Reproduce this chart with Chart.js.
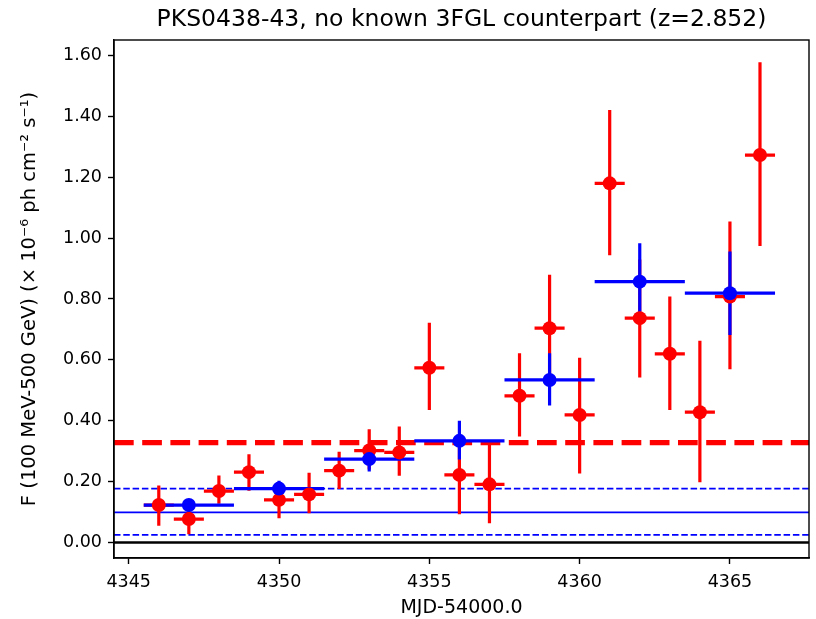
<!DOCTYPE html>
<html><head><meta charset="utf-8">
<script src="https://cdn.jsdelivr.net/npm/chart.js@4"></script>
<style>html,body{margin:0;padding:0;background:#fff}#wrap{width:816px;height:619px}</style>
</head><body><div id="wrap"><canvas id="c" width="816" height="619"></canvas></div>
<script>
// ---- data ----
const dailyDays = [4346,4347,4348,4349,4350,4351,4352,4353,4354,4355,4356,4357,4358,4359,4360,4361,4362,4363,4364,4365,4366];
const dailyFlux = [0.123,0.077,0.169,0.231,0.140,0.158,0.236,0.302,0.296,0.574,0.222,0.191,0.482,0.704,0.419,1.180,0.737,0.620,0.428,0.808,1.273];
const dailyLow  = [0.055,0.027,0.127,0.170,0.080,0.096,0.176,0.240,0.219,0.435,0.093,0.063,0.348,0.530,0.227,0.944,0.542,0.435,0.198,0.569,0.974];
const dailyHigh = [0.187,0.130,0.220,0.290,0.195,0.229,0.298,0.372,0.381,0.722,0.330,0.320,0.622,0.880,0.607,1.421,0.930,0.808,0.663,1.055,1.578];
const dailyHalfWidth = 0.5;

const binDays = [4347,4350,4353,4356,4359,4362,4365];
const binFlux = [0.123,0.177,0.274,0.334,0.534,0.857,0.819];
const binLow  = [0.103,0.152,0.233,0.273,0.450,0.758,0.682];
const binHigh = [0.143,0.203,0.300,0.400,0.622,0.983,0.956];
const binHalfWidth = 1.5;

const meanDailyFlux = 0.328;
const meanBinFlux = 0.099;
const meanBinFluxLow = 0.025;
const meanBinFluxHigh = 0.177;

const xTicks = [4345,4350,4355,4360,4365];
const yTicks = [0.0,0.2,0.4,0.6,0.8,1.0,1.2,1.4,1.6];
const xRange = [4344.51, 4367.63];
const yRange = [-0.051, 1.651];

const titleText = 'PKS0438-43, no known 3FGL counterpart (z=2.852)';
const xLabel = 'MJD-54000.0';
const yLabel = 'F (100 MeV-500 GeV) (\u00d7 10\u207b\u2076 ph cm\u207b\u00b2 s\u207b\u00b9)';

const RED = '#ff0000', BLUE = '#0000ff';
const FONT = 'DejaVu Sans';

function hline(y, color, width, dash, order, label) {
  return {
    label: label, type: 'scatter', showLine: true,
    data: [{x: xRange[0], y: y}, {x: xRange[1], y: y}],
    borderColor: color, borderWidth: width, borderDash: dash,
    pointRadius: 0, order: order, borderCapStyle: 'butt'
  };
}

const errorBars = {
  id: 'errorBars',
  afterDatasetDraw(chart, args) {
    if (chart.data.datasets[args.index].label !== 'meanDaily') return;
    const ctx = chart.ctx, xs = chart.scales.x, ys = chart.scales.y, a = chart.chartArea;
    ctx.save();
    ctx.beginPath(); ctx.rect(a.left, a.top, a.right - a.left, a.bottom - a.top); ctx.clip();
    ctx.lineWidth = 3.2; ctx.lineCap = 'butt';
    function draw(xv, yv, lo, hi, hw, col) {
      ctx.strokeStyle = col;
      for (let i = 0; i < xv.length; i++) {
        const px = xs.getPixelForValue(xv[i]), py = ys.getPixelForValue(yv[i]);
        ctx.beginPath();
        ctx.moveTo(xs.getPixelForValue(xv[i] - hw), py);
        ctx.lineTo(xs.getPixelForValue(xv[i] + hw), py);
        ctx.moveTo(px, ys.getPixelForValue(lo[i]));
        ctx.lineTo(px, ys.getPixelForValue(hi[i]));
        ctx.stroke();
      }
    }
    draw(dailyDays, dailyFlux, dailyLow, dailyHigh, dailyHalfWidth, RED);
    draw(binDays, binFlux, binLow, binHigh, binHalfWidth, BLUE);
    ctx.restore();
  }
};

const frame = {
  id: 'frame',
  afterDraw(chart) {
    const ctx = chart.ctx, a = chart.chartArea;
    ctx.save();
    ctx.strokeStyle = '#000'; ctx.lineWidth = 1.4;
    ctx.strokeRect(a.left, a.top, a.right - a.left, a.bottom - a.top);
    ctx.restore();
  }
};

new Chart(document.getElementById('c'), {
  type: 'scatter',
  data: {
    datasets: [
      { label: 'bins', data: binDays.map((d, i) => ({x: d, y: binFlux[i]})),
        backgroundColor: BLUE, borderWidth: 0, pointRadius: 7, pointHoverRadius: 7, order: 1 },
      { label: 'daily', data: dailyDays.map((d, i) => ({x: d, y: dailyFlux[i]})),
        backgroundColor: RED, borderWidth: 0, pointRadius: 7, pointHoverRadius: 7, order: 2 },
      hline(meanDailyFlux, RED, 5.3, [19.7, 8.5], 6, 'meanDaily'),
      hline(meanBinFluxLow, BLUE, 1.7, [6.5, 2.8], 7, 'binLow'),
      hline(meanBinFlux, BLUE, 1.7, [], 8, 'binMean'),
      hline(meanBinFluxHigh, BLUE, 1.7, [6.5, 2.8], 9, 'binHigh'),
      hline(0, '#000', 2.6, [], 10, 'zero')
    ]
  },
  options: {
    responsive: false, animation: false, devicePixelRatio: 1,
    layout: { padding: { left: 0, right: 1, top: 0, bottom: 0 } },
    plugins: {
      legend: { display: false }, tooltip: { enabled: false },
      title: { display: true, text: titleText, color: '#000', fullSize: false,
        font: { family: FONT, size: 23.5, weight: 'normal' }, padding: { top: 6, bottom: 5.8 } }
    },
    scales: {
      x: {
        type: 'linear', min: xRange[0], max: xRange[1],
        afterBuildTicks: s => { s.ticks = xTicks.map(v => ({value: v})); },
        afterFit: s => { s.height = 61; },
        ticks: { color: '#000', font: { family: FONT, size: 17.5 }, padding: 8,
          autoSkip: false, maxRotation: 0, callback: v => String(v) },
        grid: { display: true, drawOnChartArea: false, drawTicks: true, tickLength: 6, tickWidth: 1.4, tickColor: '#000' },
        border: { display: true, color: '#000', width: 1.4 },
        title: { display: true, text: xLabel, color: '#000', font: { family: FONT, size: 19 }, padding: { top: 0, bottom: 0 } }
      },
      y: {
        type: 'linear', min: yRange[0], max: yRange[1],
        afterBuildTicks: s => { s.ticks = yTicks.map(v => ({value: v})); },
        afterFit: s => { s.width = 114; },
        ticks: { color: '#000', font: { family: FONT, size: 17.5 }, padding: 6, autoSkip: false,
          callback: v => Number(v).toFixed(2) },
        grid: { display: true, drawOnChartArea: false, drawTicks: true, tickLength: 6, tickWidth: 1.4, tickColor: '#000' },
        border: { display: true, color: '#000', width: 1.4 },
        title: { display: true, text: yLabel, color: '#000', font: { family: FONT, size: 19.5 }, padding: { top: 18, bottom: 0 } }
      }
    }
  },
  plugins: [errorBars, frame]
});
</script>
</body></html>
